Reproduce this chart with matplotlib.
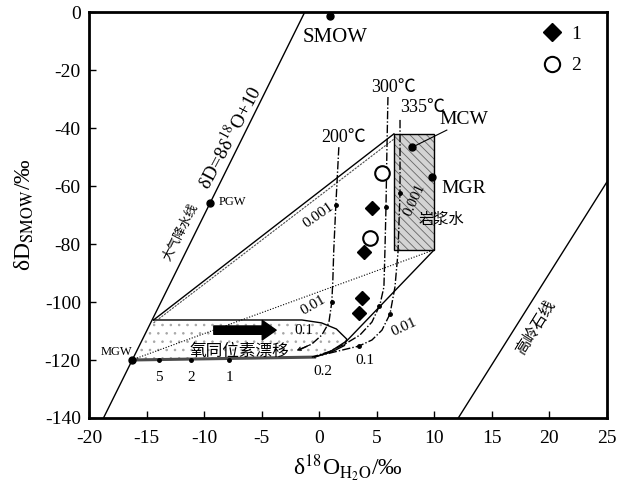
import numpy as np
import matplotlib.pyplot as plt
from matplotlib.patches import Polygon, Rectangle
from matplotlib.lines import Line2D

plt.rcParams['font.family'] = ['Liberation Serif', 'Noto Sans CJK SC', 'DejaVu Sans']
plt.rcParams['mathtext.fontset'] = 'stix'
plt.rcParams['axes.unicode_minus'] = False
plt.rcParams['hatch.linewidth'] = 0.6

# meteoric water line dD = 8*d18O + 10, kaolinite line
mwl_x = np.array([-20.0, 25.0])
kao_x = np.array([12.0, 25.0])
kao_slope, kao_icpt = 6.3, -216.2

# samples (1 = diamonds, 2 = circles)
dia_x = [4.6, 3.9, 3.7, 3.5]
dia_y = [-67.6, -82.8, -98.6, -103.8]
circ_x = [5.5, 4.4]
circ_y = [-55.5, -78.0]

# reference waters
smow = (0.9, -1.4)
pgw = (-9.5, -66.0)
mgw = (-16.3, -120.0)
mcw = (8.1, -46.6)
mgr = (9.8, -56.9)

# magmatic water box
box_x = [6.5, 10.0]
box_y = [-82.0, -42.0]

# exchange curves (w/r labels along them)
c200_x = [1.71, 1.45, 1.27, 1.19, 1.10, 0.84, 0.23, -0.64, -1.78]
c200_y = [-46.6, -66.6, -82.1, -92.4, -100.0, -107.2, -111.4, -114.5, -116.6]
c300_x = [5.98, 5.89, 5.81, 5.72, 5.63, 5.28, 4.59, 3.54, 2.41, 0.84, -0.64]
c300_y = [-29.3, -47.6, -67.2, -82.1, -94.8, -101.0, -106.9, -111.4, -114.1, -117.2, -119.0]
c335_x = [7.03, 7.03, 6.85, 6.59, 6.16, 5.46, 4.59, 3.45, 1.97, 0.23]
c335_y = [-37.2, -62.4, -83.1, -94.8, -104.1, -109.7, -113.1, -115.2, -116.6, -118.3]
c200_dots = ([1.45, 1.10], [-66.6, -100.0])
c300_dots = ([5.81, 5.20], [-67.2, -101.3])
c335_dots = ([7.03, 6.16, 3.45], [-62.4, -104.1, -115.2])

# oxygen isotope shift region
drift_x = [-14.4, -1.5, 0.2, 1.5, 2.4, 2.2, 1.1, -0.4, -16.3]
drift_y = [-106.2, -106.2, -107.2, -109.3, -112.8, -115.0, -117.2, -119.0, -120.0]
vtx = (-14.4, -106.2)
low_x = [10.0, 2.4, 1.0, -0.4]
low_y = [-82.0, -113.4, -117.0, -119.0]
bot_dots = ([-13.9, -11.1, -7.8], [-120.0, -120.0, -120.0])
bot_labels = ['5', '2', '1']

fig = plt.figure(figsize=(6.32, 4.83), dpi=100)
ax = fig.add_axes([0.141, 0.1346, 0.819, 0.8404])

ax.plot(mwl_x, 8 * mwl_x + 10, color='black', lw=1)
ax.plot(kao_x, kao_slope * kao_x + kao_icpt, color='black', lw=1)

# stippled drift field
ax.add_patch(Polygon(np.column_stack([drift_x, drift_y]), closed=True,
                     facecolor='white', edgecolor='0.65', hatch='..', lw=0))
ax.plot(drift_x[:8], drift_y[:8], color='black', lw=1)
ax.plot([drift_x[-2], mgw[0]], [drift_y[-2], mgw[1]], color='0.3', lw=2.2)

# magmatic water box
ax.add_patch(Rectangle((box_x[0], box_y[0]), box_x[1] - box_x[0], box_y[1] - box_y[0],
                       facecolor='#d4d4d4', edgecolor='0.4', hatch='\\\\\\\\', lw=0))
ax.add_patch(Rectangle((box_x[0], box_y[0]), box_x[1] - box_x[0], box_y[1] - box_y[0],
                       fill=False, edgecolor='black', lw=1))

# mixing lines
ax.plot([vtx[0], box_x[0]], [vtx[1], box_y[1]], color='black', lw=1)
ax.plot([vtx[0], box_x[0]], [vtx[1] - 1.0, box_y[1] - 1.8], color='0.3', lw=0.8, ls=(0, (2, 1)))
ax.plot([mgw[0], box_x[1]], [mgw[1], box_y[0]], color='black', lw=0.8, ls=(0, (1, 1.5)))
ax.plot(low_x, low_y, color='black', lw=1)

# temperature curves
dd = (0, (6, 1.5, 1, 1.5))
ax.plot(c200_x, c200_y, color='black', lw=1, ls=dd)
ax.annotate('', xy=(c200_x[-1] - 0.4, c200_y[-1] - 0.5), xytext=(c200_x[-2], c200_y[-2]),
            arrowprops=dict(arrowstyle='->', color='black', lw=0.8, mutation_scale=6))
ax.plot(c300_x, c300_y, color='black', lw=1, ls=dd)
ax.plot(c335_x, c335_y, color='black', lw=1, ls=dd)
for dx, dy in (c200_dots, c300_dots, c335_dots, bot_dots):
    ax.plot(dx, dy, 'o', color='black', ms=2.5)

# thick arrow for the oxygen shift
ax.annotate('', xy=(-3.5, -109.7), xytext=(-9.4, -109.7),
            arrowprops=dict(arrowstyle='simple,head_width=1.4,head_length=1.0,tail_width=0.6',
                            color='black', mutation_scale=10))

# reference water points
for p in (smow, pgw, mgw, mcw, mgr):
    ax.plot(p[0], p[1], 'o', color='black', ms=5)
ax.plot([mcw[0], 11.1], [mcw[1], -40.7], color='black', lw=0.8)

# samples
ax.plot(dia_x, dia_y, 'D', color='black', ms=7.5, ls='none')
ax.plot(circ_x, circ_y, 'o', mfc='white', mec='black', mew=1.5, ms=10.5, ls='none')

# texts
ax.text(1.4, -8.6, 'SMOW', fontsize=15, ha='center', va='center')
ax.text(-7.5, -65.5, 'PGW', fontsize=9, ha='center', va='center')
ax.text(-17.6, -117.2, 'MGW', fontsize=9, ha='center', va='center')
ax.text(12.6, -37.2, 'MCW', fontsize=14, ha='center', va='center')
ax.text(12.6, -60.7, 'MGR', fontsize=14, ha='center', va='center')
ax.text(10.6, -71.7, '岩浆水', fontsize=11, ha='center', va='center')
ax.text(2.1, -43.1, '200℃', fontsize=13, ha='center', va='center')
ax.text(6.5, -25.9, '300℃', fontsize=13, ha='center', va='center')
ax.text(9.0, -32.8, '335℃', fontsize=13, ha='center', va='center')
ax.text(-7.8, -43.1, 'δD=8δ$^{18}$O+10', fontsize=14, rotation=62,
        ha='center', va='center')
ax.text(-12.0, -75.9, '大气降水线', fontsize=9, rotation=63, ha='center', va='center')
ax.text(18.8, -108.6, '高岭石线', fontsize=11, rotation=58, ha='center', va='center')
ax.text(-6.9, -117.2, '氧同位素漂移', fontsize=12, ha='center', va='center')
ax.text(8.3, -64.8, '0.001', fontsize=11, rotation=65, ha='center', va='center')
ax.text(-0.1, -70.0, '0.001', fontsize=11, rotation=35, ha='center', va='center')
ax.text(-0.5, -101.0, '0.01', fontsize=11, rotation=30, ha='center', va='center')
ax.text(-1.3, -109.7, '0.1', fontsize=11, ha='center', va='center')
ax.text(7.4, -108.6, '0.01', fontsize=11, rotation=25, ha='center', va='center')
ax.text(4.0, -120.0, '0.1', fontsize=11, ha='center', va='center')
ax.text(0.3, -124.1, '0.2', fontsize=11, ha='center', va='center')
for bx, lab in zip(bot_dots[0], bot_labels):
    ax.text(bx, -126.2, lab, fontsize=11, ha='center', va='center')

handles = [Line2D([], [], marker='D', color='black', ls='none', ms=9),
           Line2D([], [], marker='o', mfc='white', mec='black', mew=1.5, ls='none', ms=11)]
ax.legend(handles, ['1', '2'], loc='upper right', bbox_to_anchor=(0.985, 1.01),
          frameon=False, fontsize=14, handlelength=1.4, handletextpad=0.3,
          labelspacing=0.7)

ax.set_xlim(-20, 25)
ax.set_ylim(-140, 0)
ax.set_xticks(np.arange(-20, 26, 5))
ax.set_yticks(np.arange(-140, 1, 20))
ax.tick_params(direction='in', length=5, width=1, labelsize=14)
ax.tick_params(axis='x', pad=9)
ax.tick_params(axis='y', pad=6)
for s in ax.spines.values():
    s.set_linewidth(2)
ax.set_xlabel('δ$^{18}$O$_{\\rm H_2O}$/‰', fontsize=17, labelpad=4)
ax.set_ylabel('δD$_{\\rm SMOW}$/‰', fontsize=17, labelpad=6)

fig.savefig('out.png', dpi=100)
